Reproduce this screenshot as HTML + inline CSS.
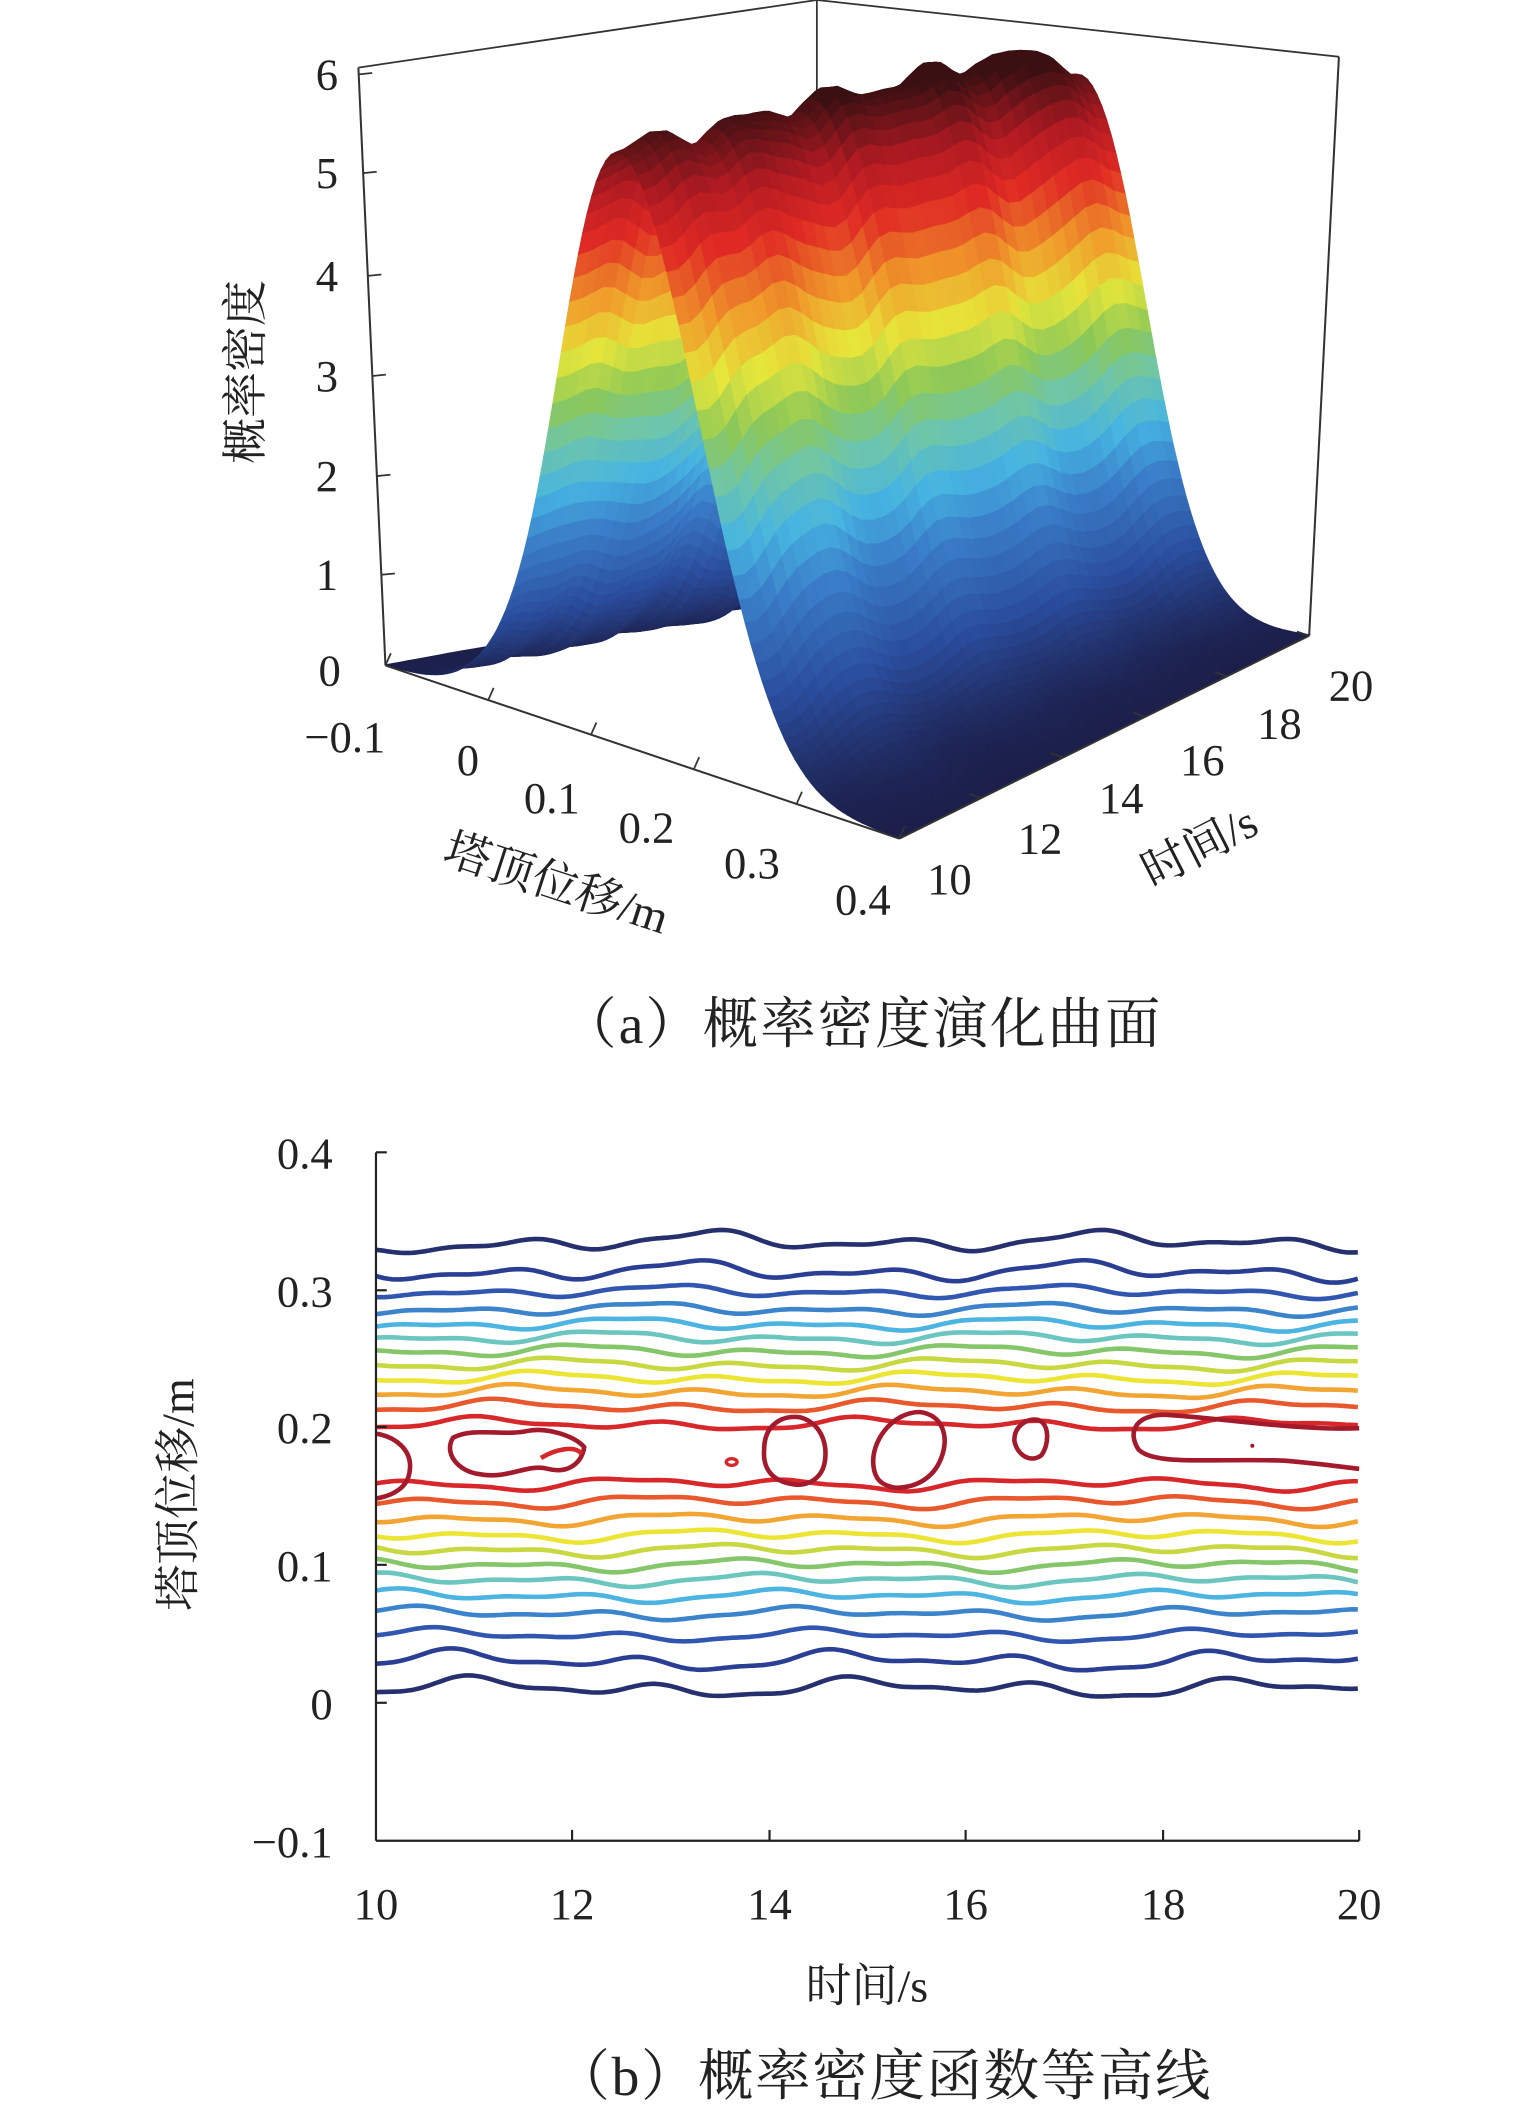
<!DOCTYPE html>
<html><head><meta charset="utf-8">
<style>
html,body{margin:0;padding:0;background:#fff;}
svg{display:block;}
text{font-family:"Liberation Serif","Noto Serif CJK SC",serif;fill:#222;}
</style></head>
<body>
<svg id="s" xmlns="http://www.w3.org/2000/svg" width="1535" height="2118" viewBox="0 0 1135 1566" preserveAspectRatio="none">
<g id="back" stroke="#333" stroke-width="1.3" fill="none">
  <line x1="265" y1="50" x2="604" y2="0"/>
  <line x1="604" y1="0" x2="990" y2="42"/>
  <line x1="604" y1="0" x2="604" y2="435"/>
  <line x1="285" y1="492" x2="604" y2="435"/>
  <line x1="604" y1="435" x2="968" y2="470"/>
</g>
<g id="surf"></g>
<g id="axes3d" stroke="#333" stroke-width="1.5" fill="none">
  <line x1="265" y1="50" x2="285" y2="492"/>
  <line x1="990" y1="42" x2="968" y2="470"/>
  <line x1="285" y1="492" x2="665" y2="620"/>
  <line x1="665" y1="620" x2="968" y2="470"/>
</g>
<g id="ticks3d" stroke="#333" stroke-width="1.3"></g>
<g font-size="33" text-anchor="end">
  <text x="250" y="66">6</text>
  <text x="250" y="139">5</text>
  <text x="250" y="215">4</text>
  <text x="250" y="289">3</text>
  <text x="250" y="363">2</text>
  <text x="250" y="436">1</text>
  <text x="252" y="507">0</text>
</g>
<g font-size="33" text-anchor="middle">
  <text x="255" y="556">−0.1</text>
  <text x="346" y="573">0</text>
  <text x="408" y="601">0.1</text>
  <text x="478" y="623">0.2</text>
  <text x="556" y="649">0.3</text>
  <text x="638" y="676">0.4</text>
  <text x="702" y="661">10</text>
  <text x="769" y="631">12</text>
  <text x="829" y="601">14</text>
  <text x="889" y="573">16</text>
  <text x="946" y="546">18</text>
  <text x="999" y="518">20</text>
</g>
<text font-size="34" transform="translate(408,664) rotate(18)" text-anchor="middle">塔顶位移/m</text>
<text font-size="34" transform="translate(892,636) rotate(-27)" text-anchor="middle">时间/s</text>
<text font-size="34" transform="translate(193,275) rotate(-90)" text-anchor="middle">概率密度</text>
<text font-size="41" x="415" y="771" textLength="443" lengthAdjust="spacing">（a）概率密度演化曲面</text>

<g id="cont" fill="none" stroke-width="3.4" stroke-linejoin="round"></g>
<g stroke="#222" stroke-width="1.6" fill="none">
  <line x1="278" y1="852" x2="278" y2="1361"/>
  <line x1="278" y1="1361" x2="1005" y2="1361"/>
  <line x1="278" y1="852" x2="286" y2="852"/>
  <line x1="278" y1="954" x2="286" y2="954"/>
  <line x1="278" y1="1055" x2="286" y2="1055"/>
  <line x1="278" y1="1157" x2="286" y2="1157"/>
  <line x1="278" y1="1259" x2="286" y2="1259"/>
  <line x1="423" y1="1361" x2="423" y2="1353"/>
  <line x1="569" y1="1361" x2="569" y2="1353"/>
  <line x1="714" y1="1361" x2="714" y2="1353"/>
  <line x1="860" y1="1361" x2="860" y2="1353"/>
  <line x1="1005" y1="1361" x2="1005" y2="1353"/>
</g>
<g font-size="33" text-anchor="end">
  <text x="246" y="864">0.4</text>
  <text x="246" y="966">0.3</text>
  <text x="246" y="1067">0.2</text>
  <text x="246" y="1169">0.1</text>
  <text x="246" y="1271">0</text>
  <text x="246" y="1373">−0.1</text>
</g>
<g font-size="33" text-anchor="middle">
  <text x="278" y="1419">10</text>
  <text x="423" y="1419">12</text>
  <text x="569" y="1419">14</text>
  <text x="714" y="1419">16</text>
  <text x="860" y="1419">18</text>
  <text x="1005" y="1419">20</text>
</g>
<text font-size="34" x="641" y="1480" text-anchor="middle">时间/s</text>
<text font-size="34" transform="translate(143,1105) rotate(-90)" text-anchor="middle">塔顶位移/m</text>
<text font-size="41" x="410" y="1549" textLength="485" lengthAdjust="spacing">（b）概率密度函数等高线</text>
</svg>
<script>
(function(){
var NS="http://www.w3.org/2000/svg";
function el(n,a,p){var e=document.createElementNS(NS,n);for(var k in a)e.setAttribute(k,a[k]);p.appendChild(e);return e;}
var stops=[[0,[28,31,74]],[0.8,[42,76,156]],[1.6,[58,125,200]],[2.1,[70,180,226]],[2.6,[111,198,168]],[3.0,[140,200,88]],[3.5,[230,230,58]],[4.0,[240,154,42]],[4.6,[224,42,36]],[5.1,[176,26,34]],[5.7,[58,16,18]]];
function cmap(z){if(z<=0)return stops[0][1];for(var i=1;i<stops.length;i++){if(z<=stops[i][0]){var a=stops[i-1],b=stops[i],f=(z-a[0])/(b[0]-a[0]);return [0,1,2].map(function(j){return Math.round(a[1][j]+(b[1][j]-a[1][j])*f);});}}return stops[stops.length-1][1];}
var A=[285,492],B=[665,620],C=[968,470],D=[604,435];
var At=[265,50],Bt=[651,92],Ct=[990,42],Dt=[604,0];
function bil(P,Q,R,S,u,v){return [P[0]*(1-u)*(1-v)+Q[0]*u*(1-v)+R[0]*u*v+S[0]*(1-u)*v, P[1]*(1-u)*(1-v)+Q[1]*u*(1-v)+R[1]*u*v+S[1]*(1-u)*v];}
function proj(u,v,z){var f=bil(A,B,C,D,u,v),t=bil(At,Bt,Ct,Dt,u,v),w=z/6;return [f[0]+(t[0]-f[0])*w,f[1]+(t[1]-f[1])*w];}
function amp(t){return 5.5+0.4*(t-10)/10+0.08*Math.sin(t*3.1)+0.04*Math.sin(t*5.3)+(t>18.6?-0.2*(t-18.6):0);}
function Z(d,t){var s=0.068+0.002*Math.sin(t*2.3);var mu=0.15+0.003*Math.sin(t*1.7);
 var z=amp(t)*Math.exp(-(d-mu)*(d-mu)/(2*s*s));z+=0.06*Math.exp(-(d-0.0)*(d-0.0)/0.002)*(1+Math.sin(t*5));return z;}
var nu=100,nv=40,g=document.getElementById("surf");
var quads=[];
for(var i=0;i<nu;i++)for(var j=0;j<nv;j++){quads.push([i,j,(nu-i)/nu+j/nv]);}
quads.sort(function(a,b){return b[2]-a[2];});
var frag="";
quads.forEach(function(q){var i=q[0],j=q[1];
 var u0=i/nu,u1=(i+1)/nu,v0=j/nv,v1=(j+1)/nv;
 function P(u,v){var d=-0.1+0.5*u,t=10+10*v;return proj(u,v,Z(d,t));}
 var p=[P(u0,v0),P(u1,v0),P(u1,v1),P(u0,v1)];
 var zc=Z(-0.1+0.5*(u0+u1)/2,10+10*(v0+v1)/2);
 var c=cmap(zc);
 var col="rgb("+c.join(",")+")";
 frag+='<polygon points="'+p.map(function(x){return x[0].toFixed(1)+","+x[1].toFixed(1);}).join(" ")+'" fill="'+col+'" stroke="'+col+'" stroke-width="0.8"/>';
});
g.innerHTML=frag;
var tk=document.getElementById("ticks3d");
[[55,6],[128,5],[204,4],[278,3],[352,2],[425,1]].forEach(function(a){var y=a[0];var x=265+(y-50)/442*20;el("line",{x1:x,y1:y,x2:x+10,y2:y-1},tk);});
for(var k=0;k<=5;k++){var u=k/5;var p=bil(A,B,C,D,u,0);el("line",{x1:p[0],y1:p[1],x2:p[0]+4,y2:p[1]-9},tk);}
for(var k=0;k<=5;k++){var v=k/5;var p=bil(A,B,C,D,1,v);el("line",{x1:p[0],y1:p[1],x2:p[0]-9,y2:p[1]-3},tk);}
var cg=document.getElementById("cont");
var cols=["#27306e","#2a3f94","#3156b0","#3b84cc","#4cb4e0","#6cc6c0","#86c66a","#c8d840","#ece534","#f2a533","#e8582c","#d8272a"];
var up=[918,940,955,968,979,989,999,1009,1019,1029,1040,1053];
var lo=[1248,1228,1209,1193,1180,1168,1157,1146,1135,1123,1110,1097];
function wave(x,k,s){var a=(k<2?7:4.5);return a*(Math.sin(x*0.045+k*0.7+s)*0.6+Math.sin(x*0.021+s*2+k*0.3)*0.5+Math.sin(x*0.09+k+s*3)*0.25);}
function line(base,k,s,col){var d="";for(var x=278;x<=1005;x+=3){var y=base+wave(x,k,s)+(k===0&&s===0?8*Math.exp(-(x-278)/25):0);d+=(x===278?"M":"L")+x+","+y.toFixed(1);}el("path",{d:d,stroke:col},cg);}
for(var k=0;k<12;k++){line(up[k],k,0,cols[k]);line(lo[k],k,1.7,cols[k]);}
var dr="#a31a2c";
[
 "M335,1063 C350,1055 372,1062 390,1058 C405,1055 425,1062 432,1070 C430,1082 420,1090 405,1086 C390,1082 375,1094 355,1090 C338,1088 328,1074 335,1063 Z",
 "M565,1072 C565,1052 580,1046 592,1048 C606,1052 612,1066 610,1080 C608,1094 596,1100 584,1097 C570,1094 564,1085 565,1072 Z",
 "M646,1085 C643,1066 660,1044 680,1044 C697,1046 702,1062 696,1078 C690,1094 676,1100 662,1100 C650,1098 647,1092 646,1085 Z",
 "M750,1065 C750,1054 760,1048 768,1050 C776,1053 776,1068 770,1076 C762,1082 752,1076 750,1065 Z",
 "M1005,1056 C960,1058 900,1048 860,1046 C838,1047 834,1060 842,1072 C855,1084 900,1078 950,1080 C975,1082 995,1085 1005,1086",
 "M278,1060 C292,1062 305,1072 303,1087 C302,1100 290,1106 278,1108"
].forEach(function(d){el("path",{d:d,stroke:dr},cg);});
el("path",{d:"M400,1078 C410,1072 425,1068 430,1075",stroke:"#d8272a"},cg);
el("ellipse",{cx:541,cy:1081,rx:4,ry:2.5,stroke:"#d8272a","stroke-width":2.5},cg);
el("circle",{cx:926,cy:1069,r:1.5,fill:dr,stroke:"none"},cg);
})();
</script>
</body></html>
